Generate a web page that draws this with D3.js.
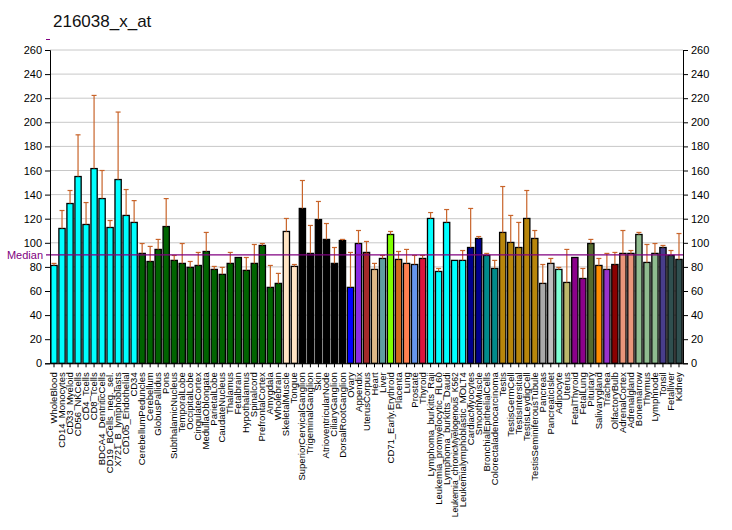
<!DOCTYPE html>
<html><head><meta charset="utf-8">
<script src="https://cdn.jsdelivr.net/npm/d3@7"></script>
<style>body{margin:0;background:#fff;} svg{display:block;font-family:"Liberation Sans",Arial,sans-serif;}</style>
</head><body>
<svg id="c" width="732" height="530"></svg>
<script>
const title = "216038_x_at";
const categories = ["WholeBlood","CD14_Monocytes","CD33_Myeloid","CD56_NKCells","CD4_Tcells","CD8_Tcells","BDCA4_DentriticCells","CD19_BCells_neg._sel.","X721_B_lymphoblasts","CD105_Endothelial","CD34","CerebellumPeduncles","Cerebellum","GlobusPallidus","Pons","SubthalamicNucleus","TemporalLobe","OccipitalLobe","CingulateCortex","MedullaOblongata","ParietalLobe","CaudateNucleus","Thalamus","Fetalbrain","Hypothalamus","Spinalcord","PrefrontalCortex","Amygdala","Wholebrain","SkeletalMuscle","Tongue","SuperiorCervicalGanglion","TrigeminalGanglion","Skin","AtrioventricularNode","CiliaryGanglion","DorsalRootGanglion","Ovary","Appendix","UterusCorpus","Heart","Liver","CD71_Early.Erythroid","Placenta","Lung","Prostate","Thyroid","Lymphoma_burkitts_Raji","Leukemia_promyelocytic_HL60","Lymphoma_burkitts_Daudi","Leukemia_chronicMyelogenous_K562","Leukemialymphoblastic_MOLT4","CardiacMyocytes","SmoothMuscle","BronchialEpithelialCells","Colorectaladenocarcinoma","Testis","TestisGermCell","TestisIntersitial","TestisLeydigCell","TestisSeminiferousTubule","Pancreas","PancreaticIslet","Adipocyte","Uterus","FetalThyroid","FetalLung","Pituitary","Salivarygland","Trachea","OlfactoryBulb","AdrenalCortex","Adrenalgland","Bonemarrow","Thymus","Lymphnode","Tonsil","Fetalliver","Kidney"];
const values = [81.2,111.9,132.6,155,115.2,161.6,136.7,112.7,152.5,122.7,116.9,91.2,84.5,94.5,113.5,85.4,82.9,79.6,81.2,92.8,77.9,73.8,82.9,87.8,77.1,82.9,97.8,63,66.3,109.4,80.4,128.5,91.2,119.3,102.8,82.9,101.9,63,99.4,92,77.9,87,106.9,86.2,82.9,82,87,120.2,76.2,116.9,85.4,85.4,96.1,103.6,89.5,78.7,108.6,100.3,96.1,120.2,103.6,66.3,82.9,77.9,67.1,87.8,70.4,99.4,81.2,77.9,82,91.2,91.2,106.9,83.7,91.2,96.1,89.5,86.2];
const errTop = [82.9,126.8,143.4,189.6,133.4,222.3,160,118.5,208.5,144.2,135,99.4,97,102.8,136.7,89.5,99.4,84.5,92,108.6,80.4,79.6,92,87.8,87.8,98.6,99.4,81.2,74.6,120.2,82,151.7,114.4,134.3,116,96.1,102.8,92,110.2,101.1,82.9,89.5,109.4,92.8,94.5,89.5,89.5,125.1,78.7,127.6,85.4,93.6,128.5,105.2,91.2,85.4,146.7,122.7,116.9,143.4,110.2,82,87,79.6,94.5,87.8,78.7,102.8,87,91.2,92,110.2,93.6,108.6,98.6,99.4,97.8,93.6,107.7];
const colors = ["#00FFFF","#00FFFF","#00FFFF","#00FFFF","#00FFFF","#00FFFF","#00FFFF","#00FFFF","#00FFFF","#00FFFF","#00FFFF",
"#006400","#006400","#006400","#006400","#006400","#006400","#006400","#006400","#006400","#006400","#006400","#006400","#006400","#006400","#006400","#006400","#006400","#006400",
"#FFE4C4","#FFE4C4","#000000","#000000","#000000","#000000","#000000","#000000",
"#0000FF","#8A2BE2","#A52A2A","#DEB887","#5F9EA0","#7FFF00","#D2691E","#FF7F50","#6495ED","#DC143C",
"#00FFFF","#00FFFF","#00FFFF","#00FFFF","#00FFFF","#00008B","#00008B","#008B8B","#008B8B",
"#B8860B","#B8860B","#B8860B","#B8860B","#B8860B","#A9A9A9","#BEBEBE","#7FFFD4","#BDB76B","#8B008B","#8B008B","#556B2F","#FF8C00","#9932CC","#8B0000","#E9967A","#E9967A","#8FBC8F","#8FBC8F","#8FBC8F","#483D8B","#2F4F4F","#2F4F4F"];
const yTicks = [0,20,40,60,80,100,120,140,160,180,200,220,240,260];
const median = 90;

const svg = d3.select("#c");
const L = 50, R = 683, T = 50, B = 363.3;
const x = d3.scaleBand().domain(categories).range([L, R]).paddingInner(0.22).paddingOuter(0.11);
const xc = d3.scaleBand().domain(categories).range([L, R]);
const y = d3.scaleLinear().domain([0, 260]).range([B, T]);

svg.append("text").attr("x", 53).attr("y", 27).attr("font-size", 17).attr("fill", "#111").text(title);

// gridlines
svg.append("g").selectAll("line").data(yTicks.filter(d => d > 0)).join("line")
  .attr("x1", L).attr("x2", R).attr("y1", d => y(d)).attr("y2", d => y(d))
  .attr("stroke", "#C8C8C8").attr("stroke-width", 1);

// bars
svg.append("g").selectAll("rect").data(categories).join("rect")
  .attr("x", d => x(d)).attr("width", x.bandwidth())
  .attr("y", (d, i) => y(values[i])).attr("height", (d, i) => y(0) - y(values[i]))
  .attr("fill", (d, i) => colors[i]).attr("stroke", "#000").attr("stroke-width", 1.3);

// error bars
const eg = svg.append("g").attr("stroke", "#C8642A").attr("stroke-width", 1.2);
categories.forEach((c, i) => {
  if (errTop[i] <= values[i] + 0.5) return;
  const cx = xc(c) + xc.bandwidth() / 2;
  eg.append("line").attr("x1", cx).attr("x2", cx).attr("y1", y(values[i])).attr("y2", y(errTop[i]));
  eg.append("line").attr("x1", cx - 2.5).attr("x2", cx + 2.5).attr("y1", y(errTop[i])).attr("y2", y(errTop[i]));
});

// median
svg.append("line").attr("x1", 46).attr("x2", R).attr("y1", y(median)).attr("y2", y(median))
  .attr("stroke", "#800080").attr("stroke-width", 1.2);
svg.append("text").attr("x", 43).attr("y", y(median) + 4).attr("text-anchor", "end")
  .attr("font-size", 11).attr("fill", "#800080").text("Median");
svg.append("line").attr("x1", 46).attr("x2", 50).attr("y1", 39.5).attr("y2", 39.5).attr("stroke", "#800080");

// axes
const yl = svg.append("g").attr("transform", `translate(${L},0)`)
  .call(d3.axisLeft(y).tickValues(yTicks).tickSize(5).tickPadding(3));
const yr = svg.append("g").attr("transform", `translate(${R},0)`)
  .call(d3.axisRight(y).tickValues(yTicks).tickSize(5).tickPadding(3));
[yl, yr].forEach(g => {
  g.selectAll("text").attr("font-size", 11).attr("fill", "#000").attr("font-family", "Liberation Sans, Arial, sans-serif");
  g.selectAll("line, path").attr("stroke", "#000");
});
const xa = svg.append("g").attr("transform", `translate(0,${B})`)
  .call(d3.axisBottom(xc).tickSize(4).tickSizeOuter(0));
xa.select("path").attr("stroke", "#000");
xa.selectAll("line").attr("stroke", "#000");
xa.selectAll("text")
  .attr("font-size", 9.5).attr("fill", "#000")
  .attr("font-family", "Liberation Sans, Arial, sans-serif")
  .attr("transform", "rotate(-90)").attr("text-anchor", "end")
  .attr("x", -9).attr("y", 0).attr("dy", "0.32em")
  .each(function() {
    const len = this.getComputedTextLength();
    if (len > 145) d3.select(this).attr("textLength", 145).attr("lengthAdjust", "spacingAndGlyphs");
  });
</script>
</body></html>
